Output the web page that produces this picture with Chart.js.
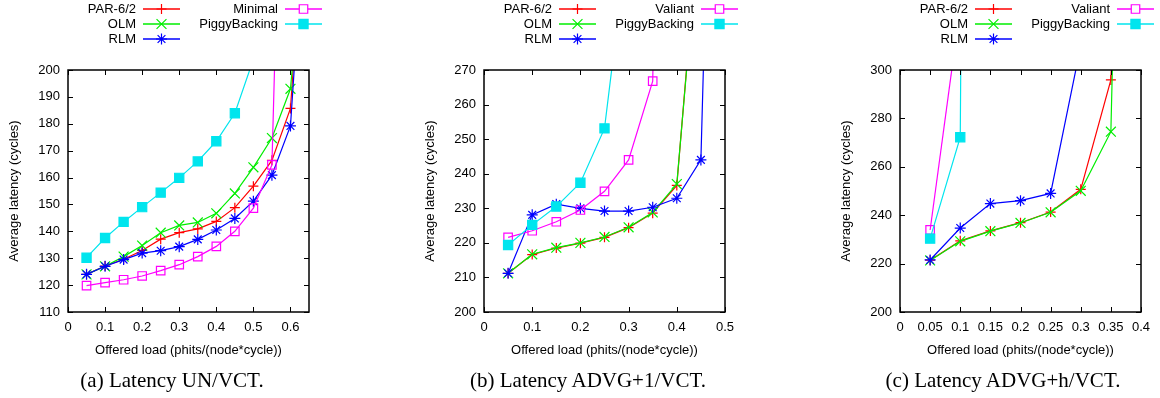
<!DOCTYPE html>
<html>
<head>
  <title>Latency vs offered load</title>
  <script src="https://cdn.jsdelivr.net/npm/chart.js@4.4.0/dist/chart.umd.min.js"></script>
  <style>
    body { margin: 0; background: #fff; width: 1160px; height: 398px; position: relative; overflow: hidden; }
    canvas { position: absolute; top: 0; }
    .caption {
      position: absolute; top: 368px; line-height: 24px;
      font: 21px 'Liberation Serif', 'Times New Roman', serif; color: #000;
      transform: translateX(-50%); white-space: nowrap;
    }
  </style>
</head>
<body>
  <canvas id="chartA" width="386" height="398" style="left:0"></canvas>
  <canvas id="chartB" width="387" height="398" style="left:386px"></canvas>
  <canvas id="chartC" width="387" height="398" style="left:773px"></canvas>
  <div class="caption" style="left:172px">(a) Latency UN/VCT.</div>
  <div class="caption" style="left:588px">(b) Latency ADVG+1/VCT.</div>
  <div class="caption" style="left:1003px">(c) Latency ADVG+h/VCT.</div>

  <script>
    // (a) uniform traffic
    const loadA = [0.05, 0.1, 0.15, 0.2, 0.25, 0.3, 0.35, 0.4, 0.45, 0.5, 0.55, 0.6, 0.65];
    const parA = [124.0, 127.1, 129.6, 132.9, 137.1, 139.5, 140.9, 143.7, 148.8, 156.8, 166.4, 185.7, 285];
    const olmA = [124.0, 127.0, 130.6, 134.7, 139.5, 142.2, 143.3, 146.7, 154.1, 163.8, 174.7, 193.0, 270];
    const rlmA = [124.0, 127.0, 129.5, 131.9, 132.8, 134.3, 137.0, 140.5, 144.8, 151.2, 160.9, 179.2, 283];
    const minimalA = [119.8, 120.9, 122.0, 123.4, 125.4, 127.6, 130.6, 134.4, 140.0, 148.6, 164.7, 420, null];
    const piggyA = [130.2, 137.5, 143.5, 149.0, 154.4, 159.9, 166.0, 173.5, 183.9, 204, null, null, null];
    const xTicksA = [0, 0.1, 0.2, 0.3, 0.4, 0.5, 0.6];
    const yTicksA = [110, 120, 130, 140, 150, 160, 170, 180, 190, 200];

    // (b) ADVG+1 traffic
    const loadB = [0.05, 0.1, 0.15, 0.2, 0.25, 0.3, 0.35, 0.4, 0.45, 0.5];
    const parB = [211.2, 216.6, 218.5, 219.9, 221.6, 224.4, 228.6, 236.6, 320, null];
    const olmB = [211.2, 216.7, 218.6, 220.0, 221.7, 224.5, 228.8, 237.0, 318, null];
    const rlmB = [211.2, 228.1, 231.2, 230.0, 229.2, 229.2, 230.3, 232.9, 244.0, 500];
    const valiantB = [221.6, 223.5, 226.1, 229.5, 234.9, 244.0, 266.8, 600, null, null];
    const piggyB = [219.4, 225.2, 230.5, 237.4, 253.1, 310, null, null, null, null];
    const xTicksB = [0, 0.1, 0.2, 0.3, 0.4, 0.5];
    const yTicksB = [200, 210, 220, 230, 240, 250, 260, 270];

    // (c) ADVG+h traffic
    const loadC = [0.05, 0.1, 0.15, 0.2, 0.25, 0.3, 0.35, 0.4];
    const parC = [221.4, 229.4, 233.5, 236.9, 241.3, 250.7, 295.9, 600];
    const olmC = [221.3, 229.2, 233.4, 236.8, 241.2, 250.1, 274.5, 800];
    const rlmC = [221.5, 234.7, 244.8, 246.0, 249.0, 310, null, null];
    const valiantC = [233.9, 326, null, null, null, null, null, null];
    const piggyC = [230.3, 272.2, 2000, null, null, null, null, null];
    const xTicksC = [0, 0.05, 0.1, 0.15, 0.2, 0.25, 0.3, 0.35, 0.4];
    const yTicksC = [200, 220, 240, 260, 280, 300];

    const FONT = "'Liberation Sans', Arial, Helvetica, sans-serif";
    Chart.defaults.font.family = FONT;
    Chart.defaults.font.size = 13;
    Chart.defaults.color = '#000';

    // gnuplot-like line/point styles
    const styles = {
      'PAR-6/2':      { color: '#ff0000', point: 'cross',    radius: 5,   filled: false },
      'OLM':          { color: '#00ee00', point: 'crossRot', radius: 7,   filled: false },
      'RLM':          { color: '#0000ff', point: 'star',     radius: 5.5, filled: false },
      'Minimal':      { color: '#ff00ff', point: 'rect',     radius: 6,   filled: false },
      'Valiant':      { color: '#ff00ff', point: 'rect',     radius: 6,   filled: false },
      'PiggyBacking': { color: '#00e5ee', point: 'rect',     radius: 6.5, filled: true }
    };

    function series(label, loads, values, idx, count) {
      const s = styles[label];
      return {
        label: label,
        data: loads.map((x, i) => ({ x: x, y: values[i] })).filter(p => p.y !== null),
        borderColor: s.color,
        backgroundColor: s.color,
        borderWidth: 1.2,
        pointStyle: s.point,
        pointRadius: s.radius,
        pointBorderWidth: 1.2,
        pointBorderColor: s.color,
        pointBackgroundColor: s.filled ? s.color : 'rgba(0,0,0,0)',
        tension: 0,
        fill: false,
        order: count - 1 - idx   // later series drawn on top
      };
    }

    // border box with inward ticks on all four sides
    const framePlugin = {
      id: 'frame',
      afterDraw(chart) {
        const { ctx, chartArea: a, scales: { x, y } } = chart;
        ctx.save();
        ctx.strokeStyle = '#000';
        ctx.lineWidth = 1;
        ctx.beginPath();
        x.ticks.forEach(t => {
          const px = Math.round(x.getPixelForValue(t.value)) + 0.5;
          ctx.moveTo(px, a.bottom); ctx.lineTo(px, a.bottom - 5);
          ctx.moveTo(px, a.top); ctx.lineTo(px, a.top + 5);
        });
        y.ticks.forEach(t => {
          const py = Math.round(y.getPixelForValue(t.value)) + 0.5;
          ctx.moveTo(a.left, py); ctx.lineTo(a.left + 5, py);
          ctx.moveTo(a.right, py); ctx.lineTo(a.right - 5, py);
        });
        ctx.stroke();
        ctx.lineWidth = 1.5;
        ctx.strokeRect(a.left, a.top, a.right - a.left, a.bottom - a.top);
        ctx.restore();
      }
    };

    // two-column key above the plot: label, line sample, marker
    const keyPlugin = {
      id: 'key',
      afterDraw(chart) {
        const { ctx, chartArea } = chart;
        ctx.save();
        ctx.font = '13px ' + FONT;
        ctx.textAlign = 'right';
        ctx.textBaseline = 'middle';
        chart.data.datasets.forEach((ds, i) => {
          const col = Math.floor(i / 3), row = i % 3;
          const right = chartArea.left + (col ? 210 : 68);
          const y = 9 + row * 15;
          ctx.fillStyle = '#000';
          ctx.fillText(ds.label, right, y);
          const x0 = right + 7, x1 = right + 44;
          ctx.strokeStyle = ds.borderColor;
          ctx.lineWidth = 1.5;
          ctx.beginPath();
          ctx.moveTo(x0, y); ctx.lineTo(x1, y);
          ctx.stroke();
          ctx.lineWidth = 1.2;
          ctx.fillStyle = ds.pointBackgroundColor === 'rgba(0,0,0,0)' ? '#fff' : ds.pointBackgroundColor;
          Chart.helpers.drawPoint(ctx, {
            pointStyle: ds.pointStyle, radius: ds.pointRadius, borderWidth: 1.2, rotation: 0
          }, (x0 + x1) / 2, y);
        });
        ctx.restore();
      }
    };

    function makeChart(id, labels, loads, seriesValues, xTicks, yTicks, padLeft, padRight) {
      const datasets = labels.map((l, i) => series(l, loads, seriesValues[i], i, labels.length));
      const xMax = xTicks[xTicks.length - 1] + (id === 'chartA' ? 0.05 : 0);
      return new Chart(document.getElementById(id), {
        type: 'line',
        data: { datasets: datasets },
        options: {
          responsive: false,
          animation: false,
          events: [],
          layout: { padding: { left: padLeft, right: padRight, top: 70, bottom: 40 } },
          plugins: { legend: { display: false }, tooltip: { enabled: false } },
          scales: {
            x: {
              type: 'linear',
              min: xTicks[0],
              max: xMax,
              grid: { display: false, drawTicks: false },
              border: { display: false },
              afterBuildTicks: s => { s.ticks = xTicks.map(v => ({ value: v })); },
              afterFit: s => { s.height = 46; },
              ticks: { padding: 8, maxRotation: 0, autoSkip: false,
                       callback: v => String(Math.round(v * 100) / 100) },
              title: { display: true, text: 'Offered load (phits/(node*cycle))',
                       padding: { top: 0, bottom: 0 } }
            },
            y: {
              type: 'linear',
              min: yTicks[0],
              max: yTicks[yTicks.length - 1],
              grid: { display: false, drawTicks: false },
              border: { display: false },
              afterBuildTicks: s => { s.ticks = yTicks.map(v => ({ value: v })); },
              afterFit: s => { s.width = 61; },
              ticks: { padding: 8, autoSkip: false, callback: v => String(v) },
              title: { display: true, text: 'Average latency (cycles)',
                       padding: { top: 0, bottom: 0 } }
            }
          }
        },
        plugins: [framePlugin, keyPlugin]
      });
    }

    const namesA = ['PAR-6/2', 'OLM', 'RLM', 'Minimal', 'PiggyBacking'];
    const namesBC = ['PAR-6/2', 'OLM', 'RLM', 'Valiant', 'PiggyBacking'];

    makeChart('chartA', namesA, loadA, [parA, olmA, rlmA, minimalA, piggyA], xTicksA, yTicksA, 7, 77);
    makeChart('chartB', namesBC, loadB, [parB, olmB, rlmB, valiantB, piggyB], xTicksB, yTicksB, 37, 48);
    makeChart('chartC', namesBC, loadC, [parC, olmC, rlmC, valiantC, piggyC], xTicksC, yTicksC, 66, 19);
  </script>
</body>
</html>
